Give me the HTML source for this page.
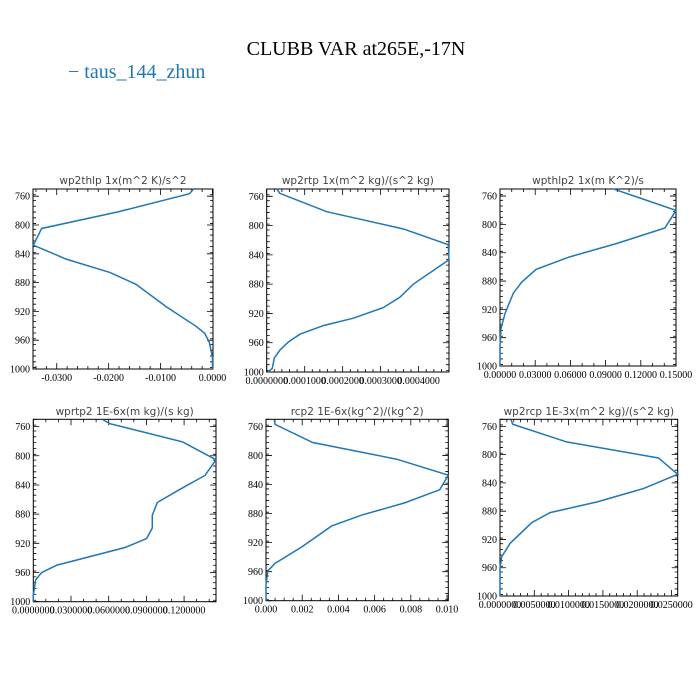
<!DOCTYPE html>
<html><head><meta charset="utf-8"><style>
body{margin:0;background:#fff;width:700px;height:700px;overflow:hidden}
svg{display:block}
</style></head><body>
<svg id="chart" width="700" height="700" viewBox="0 0 700 700" xmlns="http://www.w3.org/2000/svg">
<text x="356" y="55" text-anchor="middle" font-family="Liberation Serif, serif" font-size="20" fill="#000">CLUBB VAR at265E,-17N</text>
<g>
<text x="68" y="78" font-family="Liberation Serif, serif" font-size="20" fill="#1f77b4">− taus_144_zhun</text>
</g>
</svg>
<script>
const p1 = [750,756.5,781.6,804.8,828,847.6,866,882.5,914,940,950.4,963,984,1000];
const v1 = [-0.00366,-0.00443,-0.0181,-0.0329,-0.0345,-0.0281,-0.0197,-0.0147,-0.0088,-0.0033,-0.0015,-0.0006,0,0];
const p2 = [750,756,781,804.6,826,846.6,880,897.7,912,926.5,936.6,948.4,959,970,981,995,1000];
const v2 = [0.0000263,0.000035,0.000158,0.00036,0.000478,0.00048,0.000386,0.000351,0.000307,0.000228,0.000149,0.0000876,0.000057,0.000035,0.00002,0.0000147,0.0000026];
const p3 = [749.5,780.3,805,827,846,863.6,881.6,897,925.6,947,973,1000];
const v3 = [0.096,0.15,0.1406,0.0994,0.0591,0.0307,0.0185,0.0114,0.0043,0.00085,0,0];
const p4 = [750.8,756,781,805.5,827,846,864,881.6,899,913.4,925.7,950,960,970,991,1000];
const v4 = [0.0557,0.061,0.1189,0.1454,0.1366,0.1167,0.0987,0.0947,0.0947,0.0902,0.073,0.0186,0.0067,0.0019,0,0];
const p5 = [750.8,757,782,805,827,847,865,882,897,926,948.6,959,978,1000];
const v5 = [0.00046,0.0005,0.00258,0.00722,0.01007,0.0096,0.00768,0.00529,0.00363,0.00197,0.0005,0.0001,0,0];
const p6 = [750.5,757,782,804.7,827.8,848,867,882,896.4,925.6,944.5,960.6,1000];
const v6 = [0.0016,0.00185,0.0097,0.0231,0.0259,0.0209,0.0141,0.0073,0.0046,0.00146,0.00025,0,0];
const yTicks = [760,800,840,880,920,960,1000];
const xt1 = ["-0.0300","-0.0200","-0.0100","0.0000"];
const xt2 = ["0.0000000","0.0001000","0.0002000","0.0003000","0.0004000"];
const xt3 = ["0.00000","0.03000","0.06000","0.09000","0.12000","0.15000"];
const xt4 = ["0.0000000","0.0300000","0.0600000","0.0900000","0.1200000"];
const xt5 = ["0.000","0.002","0.004","0.006","0.008","0.010"];
const xt6 = ["0.0000000","0.0050000","0.0100000","0.0150000","0.0200000","0.0250000"];

const panels = [
 {name:"wp2thlp",title:"wp2thlp  1x(m^2 K)/s^2",L:33,R:213,T:189,B:369,x0:-0.03457,x1:0.0001,ticks:xt1,step:0.01,minor:5,p:p1,v:v1,ty:179},
 {name:"wp2rtp",title:"wp2rtp  1x(m^2 kg)/(s^2 kg)",L:266.7,R:449,T:189,B:372,x0:0,x1:0.00048,ticks:xt2,step:0.0001,minor:5,p:p2,v:v2,ty:179},
 {name:"wpthlp2",title:"wpthlp2  1x(m K^2)/s",L:500,R:676,T:189,B:366,x0:0,x1:0.15,ticks:xt3,step:0.03,minor:3,p:p3,v:v3,ty:179},
 {name:"wprtp2",title:"wprtp2  1E-6x(m kg)/(s kg)",L:33.3,R:216,T:419.3,B:601.7,x0:0,x1:0.1454,ticks:xt4,step:0.03,minor:3,p:p4,v:v4,ty:410},
 {name:"rcp2",title:"rcp2  1E-6x(kg^2)/(kg^2)",L:266,R:448.3,T:419.3,B:600.7,x0:0,x1:0.01007,ticks:xt5,step:0.002,minor:4,p:p5,v:v5,ty:410},
 {name:"wp2rcp",title:"wp2rcp  1E-3x(m^2 kg)/(s^2 kg)",L:500,R:677.7,T:419.3,B:596,x0:0,x1:0.0259,ticks:xt6,step:0.005,minor:5,p:p6,v:v6,ty:410}
];
const NS="http://www.w3.org/2000/svg";
const svg=document.getElementById('chart');
function mk(tag,attrs,parent){const e=document.createElementNS(NS,tag);for(const k in attrs)e.setAttribute(k,attrs[k]);parent.appendChild(e);return e;}
panels.forEach(pn=>{
 const g=mk('g',{},svg);
 
 
 const xs=v=>pn.L+(v-pn.x0)/(pn.x1-pn.x0)*(pn.R-pn.L);
 const ys=p=>pn.T+(p-750)/250*(pn.B-pn.T);
 const t=mk('text',{x:(pn.L+pn.R)/2,y:pn.ty+5,'text-anchor':'middle','font-family':'DejaVu Sans, sans-serif','font-size':'10.5','fill':'#444'},g);
 t.textContent=pn.title;
 
 
 let d='';
 // y ticks
 for(let p=750;p<=1000;p+=8){
  const y=ys(p);
  if(y<pn.T-0.1)continue;
  const major=(p-760)%40===0&&p>=760;
  const len=major?6:3;
  d+=`M${pn.L},${y}h${len}M${pn.R},${y}h${-len}`;
 }
 yTicks.forEach(p=>{
  const y=ys(p);
  d+=`M${pn.L},${y}h6M${pn.R},${y}h-6`;
  const tl=mk('text',{x:pn.L-3,y:y+3.5,'text-anchor':'end','font-family':'Liberation Serif, serif','font-size':'10','fill':'#000'},g);
  tl.textContent=String(p);
  
  
 });
 // x ticks
 const first=pn.ticks.map(Number)[0];
 const ms=pn.step/pn.minor;
 for(let i=-50;i<200;i++){
  const v=first+i*ms;
  const x=xs(v);
  if(x<pn.L-0.1||x>pn.R+0.1)continue;
  const len=(i%pn.minor===0)?6:3;
  d+=`M${x},${pn.B}v${-len}M${x},${pn.T}v${len}`;
 }
 pn.ticks.forEach(s=>{
  const x=xs(Number(s));
  const tl=mk('text',{x:x,y:pn.B+12,'text-anchor':'middle','font-family':'Liberation Serif, serif','font-size':'10','fill':'#000'},g);
  tl.textContent=s;
  
  
 });
 const tk=mk('path',{d:d,stroke:'#000','stroke-width':'0.8',fill:'none'},g);
 
 
 const box=mk('rect',{x:pn.L,y:pn.T,width:pn.R-pn.L,height:pn.B-pn.T,fill:'none',stroke:'#000','stroke-width':'1'},g);
 
 
 const pts=pn.p.map((p,i)=>xs(pn.v[i]).toFixed(2)+','+ys(p).toFixed(2)).join(' ');
 const line=mk('polyline',{points:pts,fill:'none',stroke:'#1f77b4','stroke-width':'1.5'},g);
 
 
});
</script>
</body></html>
